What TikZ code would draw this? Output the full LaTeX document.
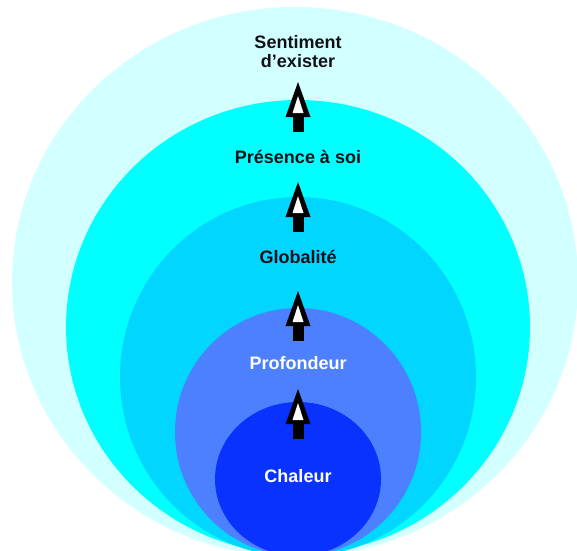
\documentclass[tikz,border=0pt]{standalone}
\usepackage{fontspec}
\setmainfont{Liberation Sans}
\definecolor{cOne}{HTML}{D2FFFF}
\definecolor{cTwo}{HTML}{00FFFF}
\definecolor{cThree}{HTML}{00D6FF}
\definecolor{cFour}{HTML}{4C80FF}
\definecolor{cFive}{HTML}{0A32FF}
\definecolor{ink}{HTML}{111118}
\tikzset{
  lbl/.style={font=\fontsize{18}{20}\selectfont\bfseries, text=ink, align=center, inner sep=0pt},
  wlbl/.style={lbl, text=white},
}
\newcommand{\upblock}[1]{%
  \fill[black] ($(#1)+(-5.5,33)$) rectangle ($(#1)+(5.5,50)$);
  \fill[black] (#1) -- ($(#1)+(-12.5,35)$) -- ($(#1)+(12.5,35)$) -- cycle;
  \fill[white] ($(#1)+(0,14)$) -- ($(#1)+(-5.5,31)$) -- ($(#1)+(5.5,31)$) -- cycle;
}
\usetikzlibrary{calc}
\begin{document}
\begin{tikzpicture}[x=1pt,y=-1pt]
\useasboundingbox (0,0) rectangle (577,550);
\fill[white] (0,0) rectangle (577,550);
\fill[cOne] (295,282) ellipse [x radius=283pt, y radius=275pt];
\fill[cTwo] (298,327) ellipse [x radius=232pt, y radius=227pt];
\fill[cThree] (298,377) ellipse [x radius=178pt, y radius=180pt];
\fill[cFour] (298,432) ellipse [x radius=123pt, y radius=124pt];
\fill[cFive] (298,479) ellipse [x radius=83pt, y radius=77pt];

\node[lbl] (sent) at (298,52) {Sentiment\\[-1pt]d’exister};
\node[lbl] (pres) at (298,157) {Présence à soi};
\node[lbl] (glob) at (298,257) {Globalité};
\node[wlbl] (prof) at (298,363) {Profondeur};
\node[wlbl] (chal) at (298,476) {Chaleur};

\coordinate (a1) at (298,82);
\coordinate (a2) at (298,182);
\coordinate (a3) at (298,291);
\coordinate (a4) at (298,389);
\upblock{a1}
\upblock{a2}
\upblock{a3}
\upblock{a4}
\end{tikzpicture}
\end{document}
